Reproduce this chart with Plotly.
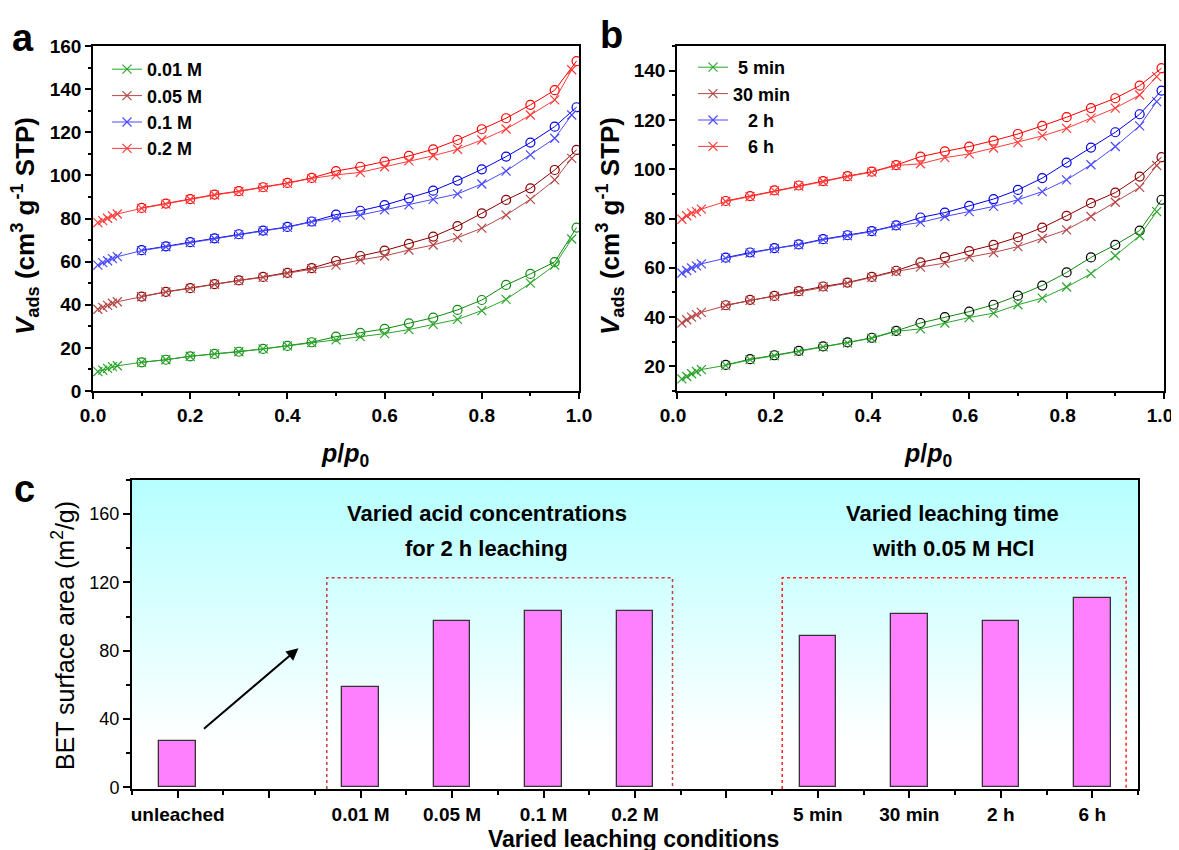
import plotly.graph_objects as go

# page has an 8px body margin: the figure is drawn 8px in from the top-left
OFF = 8
W, H = 1179, 850
FW, FH = W, H
FONT = "Arial, Liberation Sans, sans-serif"

# ---------------- data ----------------
p_ads = [0.01, 0.02, 0.03, 0.04, 0.05, 0.10, 0.15, 0.20, 0.25, 0.30, 0.35, 0.40,
         0.45, 0.50, 0.55, 0.60, 0.65, 0.70, 0.75, 0.80, 0.85, 0.90, 0.95, 0.985]
p_des = [0.995, 0.95, 0.90, 0.85, 0.80, 0.75, 0.70, 0.65, 0.60, 0.55, 0.50,
         0.45, 0.40, 0.35, 0.30, 0.25, 0.20, 0.15, 0.10]

# panel a: acid concentration
names_a = ["0.01 M", "0.05 M", "0.1 M", "0.2 M"]
ads_001M = [9.0, 9.7, 10.5, 11.3, 11.7, 13.3, 14.5, 16.1, 17.2, 18.2, 19.5, 20.9,
            22.4, 23.7, 25.2, 26.6, 28.5, 30.9, 33.2, 37.3, 42.5, 50.0, 58.4, 70.5]
des_001M = [75.8, 59.8, 54.3, 49.2, 42.2, 37.6, 34.0, 31.4, 28.8, 27.0, 25.2,
            22.6, 20.9, 19.5, 18.2, 17.2, 16.1, 14.5, 13.3]
ads_005M = [37.9, 38.8, 39.7, 40.7, 41.4, 43.7, 45.9, 47.6, 49.5, 51.2, 52.7, 54.6,
            56.7, 58.4, 60.8, 62.6, 65.4, 67.7, 71.1, 75.5, 81.6, 88.9, 97.9, 107.9]
des_005M = [111.8, 102.5, 94.0, 88.6, 82.4, 76.5, 71.6, 68.2, 65.1, 62.6, 60.3,
            57.0, 54.8, 52.9, 51.3, 49.6, 47.7, 46.0, 43.8]
ads_01M = [58.4, 59.5, 60.4, 61.4, 62.3, 65.1, 66.9, 68.8, 70.6, 72.5, 74.2, 75.9,
           78.4, 80.4, 81.6, 84.0, 86.3, 88.9, 91.4, 96.0, 102.0, 109.5, 117.2, 128.0]
des_01M = [131.6, 122.6, 115.2, 108.7, 102.8, 97.6, 92.9, 89.4, 86.2, 83.6, 81.8,
           78.6, 76.1, 74.4, 72.7, 70.8, 69.0, 67.1, 65.3]
ads_02M = [78.1, 79.0, 80.1, 81.2, 82.1, 84.7, 86.7, 88.8, 90.9, 92.5, 94.3, 96.3,
           98.6, 100.2, 101.4, 104.0, 106.7, 109.1, 112.1, 116.4, 121.5, 128.0, 135.0, 149.0]
des_02M = [153.0, 139.5, 132.7, 126.5, 121.4, 116.4, 112.1, 109.0, 106.4, 104.0, 102.0,
           98.8, 96.5, 94.5, 92.7, 91.1, 89.0, 86.9, 84.9]

# panel b: leaching time
names_b = ["\u00a05 min", "30 min", "\u00a0\u00a0\u00a02 h", "\u00a0\u00a0\u00a06 h"]
ads_5min = [14.9, 15.9, 17.0, 17.9, 18.7, 20.4, 22.7, 24.3, 26.1, 27.9, 29.5, 31.4,
            34.2, 35.2, 37.6, 39.8, 41.6, 45.0, 47.7, 52.2, 57.6, 64.9, 73.0, 82.8]
des_5min = [87.6, 75.1, 69.3, 64.2, 58.1, 52.8, 48.7, 45.0, 42.2, 40.0, 37.6,
            34.4, 31.6, 29.7, 28.1, 26.3, 24.5, 22.9, 20.6]
ads_30min = [37.6, 38.9, 40.0, 41.0, 41.9, 44.6, 46.8, 48.4, 50.3, 52.2, 53.8, 56.1,
             58.5, 60.3, 61.9, 64.3, 66.2, 68.6, 71.9, 75.4, 80.8, 86.6, 92.6, 101.5]
des_30min = [104.9, 97.0, 90.5, 86.2, 81.1, 76.3, 72.4, 69.3, 66.8, 64.3, 62.2,
             58.8, 56.3, 54.0, 52.4, 50.5, 48.6, 47.0, 44.8]
ads_2h = [57.9, 58.9, 59.9, 60.8, 61.6, 63.9, 66.0, 67.8, 69.3, 71.4, 73.0, 74.7,
          77.0, 78.4, 80.8, 82.8, 84.9, 87.6, 90.9, 95.7, 101.8, 109.2, 117.6, 127.4]
des_2h = [131.9, 122.3, 115.0, 108.8, 102.7, 96.4, 91.6, 87.9, 85.1, 82.4, 80.4,
          77.2, 74.9, 73.2, 71.6, 69.5, 68.0, 66.2, 64.1]
ads_6h = [79.7, 81.1, 82.2, 82.8, 83.8, 86.9, 88.9, 91.2, 93.2, 95.0, 97.0, 98.8,
          101.5, 102.2, 104.7, 106.2, 108.6, 110.8, 113.5, 116.6, 120.7, 124.8, 130.1, 137.6]
des_6h = [141.0, 133.9, 128.8, 124.8, 121.1, 117.6, 114.3, 111.6, 109.2, 107.2, 105.1,
          101.7, 99.0, 97.2, 95.2, 93.4, 91.4, 89.1, 87.1]

# panel c: BET surface area
bet_labels = ["unleached", "", "0.01 M", "0.05 M", "0.1 M", "0.2 M", "",
              "5 min", "30 min", "2 h", "6 h"]
bet_values = [27.0, None, 58.5, 97.6, 103.0, 103.0, None, 88.7, 101.7, 97.6, 110.6]

# ---------------- styles ----------------
ads_colors = ["#2aa52a", "#b54848", "#4a4aff", "#ff3c3c"]
des_colors = ["#108a10", "#8b0000", "#0000e6", "#ff0000"]
des_marker_b = ["#000000", "#8b0000", "#0000e6", "#ff0000"]


def px_x(x):
    return (x - OFF) / FW


def px_y(y):
    return 1 - (y - OFF) / FH


fig = go.Figure()

sets_a = [(ads_001M, des_001M), (ads_005M, des_005M), (ads_01M, des_01M), (ads_02M, des_02M)]
sets_b = [(ads_5min, des_5min), (ads_30min, des_30min), (ads_2h, des_2h), (ads_6h, des_6h)]

for sets, names, xa, ya, leg, dmk in [
        (sets_a, names_a, "x", "y", "legend", des_colors),
        (sets_b, names_b, "x2", "y2", "legend2", des_marker_b)]:
    for i, (ads, des) in enumerate(sets):
        fig.add_trace(go.Scatter(
            x=p_des, y=des, mode="lines+markers", xaxis=xa, yaxis=ya,
            line=dict(color=des_colors[i], width=1),
            marker=dict(symbol="circle-open", size=9, color=dmk[i], line=dict(width=1.2)),
            showlegend=False, hoverinfo="skip"))
        fig.add_trace(go.Scatter(
            x=p_ads, y=ads, mode="lines+markers", xaxis=xa, yaxis=ya,
            name=names[i], legend=leg,
            line=dict(color=ads_colors[i], width=1),
            marker=dict(symbol="x-thin-open", size=9, color=ads_colors[i], line=dict(width=1.2)),
            hoverinfo="skip"))

# panel c background gradient (base subplot x3/y3)
fig.add_trace(go.Scatter(
    x=[-0.5, 10.5, 10.5, -0.5, -0.5], y=[-1, -1, 180, 180, -1],
    xaxis="x3", yaxis="y3", mode="lines", fill="toself",
    line=dict(width=0, color="rgba(0,0,0,0)"),
    fillgradient=dict(type="vertical",
                      colorscale=[[0, "#ffffff"], [0.15, "#ffffff"], [1, "#b6ffff"]]),
    showlegend=False, hoverinfo="skip"))

# bars on an overlaying y axis so they are drawn above the gradient
fig.add_trace(go.Bar(
    x=list(range(len(bet_labels))), y=bet_values, width=0.4,
    xaxis="x3", yaxis="y4",
    marker=dict(color="#ff80ff", line=dict(color="#333333", width=1.3)),
    showlegend=False, hoverinfo="skip"))

tick_font = dict(family=FONT, size=19, color="black", weight="bold")
base_axis = dict(showline=True, linecolor="black", linewidth=1.5, mirror=True,
                 ticks="outside", ticklen=6, tickwidth=1.5, tickcolor="black",
                 showgrid=False, zeroline=False, tickfont=tick_font, automargin=False)

dom_y_ab = [px_y(391), px_y(46)]
dom_y_c = [px_y(789), px_y(480)]
leg_font = dict(family=FONT, size=18, color="black", weight="bold")
fig.update_layout(
    width=FW, height=FH, margin=dict(l=0, r=0, t=0, b=0),
    paper_bgcolor="white", plot_bgcolor="rgba(0,0,0,0)",
    template="none", bargap=0,
    xaxis=dict(base_axis, domain=[px_x(93), px_x(579)], range=[0, 1],
               tick0=0, dtick=0.2, tickformat=".1f",
               minor=dict(dtick=0.1, ticks="outside", ticklen=3, tickcolor="black"),
               anchor="y"),
    yaxis=dict(base_axis, domain=dom_y_ab, range=[0, 160], tick0=0, dtick=20,
               minor=dict(dtick=10, ticks="outside", ticklen=3, tickcolor="black"),
               anchor="x"),
    xaxis2=dict(base_axis, domain=[px_x(677), px_x(1164)], range=[0, 1],
                tick0=0, dtick=0.2, tickformat=".1f", ticklabelshift=-4,
                minor=dict(dtick=0.1, ticks="outside", ticklen=3, tickcolor="black"),
                anchor="y2"),
    yaxis2=dict(base_axis, domain=dom_y_ab, range=[10, 150], tick0=0, dtick=20,
                minor=dict(dtick=10, ticks="outside", ticklen=3, tickcolor="black"),
                anchor="x2"),
    xaxis3=dict(base_axis, domain=[px_x(132), px_x(1138)], range=[-0.5, 10.5],
                linewidth=2, tickmode="array", tickvals=list(range(len(bet_labels))),
                ticktext=bet_labels, ticklen=7,
                tickfont=dict(family=FONT, size=19, color="black", weight="bold"),
                minor=dict(tick0=0.5, dtick=1, ticks="outside", ticklen=4, tickcolor="black"),
                anchor="y3"),
    yaxis3=dict(base_axis, domain=dom_y_c, range=[-1, 180],
                linewidth=2, tick0=0, dtick=40, ticklen=7,
                tickfont=dict(family=FONT, size=18, color="black"),
                minor=dict(dtick=20, ticks="outside", ticklen=4, tickcolor="black"),
                anchor="x3"),
    yaxis4=dict(domain=dom_y_c, range=[-1, 180], overlaying="y3", anchor="x3",
                visible=False, showgrid=False, zeroline=False),
    legend=dict(x=px_x(107), y=px_y(51), xanchor="left", yanchor="top",
                bgcolor="rgba(0,0,0,0)", font=leg_font,
                itemsizing="trace", tracegroupgap=0),
    legend2=dict(x=px_x(693), y=px_y(49), xanchor="left", yanchor="top",
                 bgcolor="rgba(0,0,0,0)", font=leg_font,
                 itemsizing="trace", tracegroupgap=0),
)

ann = []


def paper_text(text, x, y, size, angle=0, bold=True, xanchor="center", yanchor="middle"):
    ann.append(dict(text=text, x=px_x(x), y=px_y(y), xref="paper", yref="paper",
                    showarrow=False, textangle=angle, xanchor=xanchor, yanchor=yanchor,
                    font=dict(family=FONT, size=size, color="black",
                              weight="bold" if bold else "normal")))


paper_text("a", 23, 38, 38)
paper_text("b", 611, 35, 38)
paper_text("c", 24, 489, 38)
ytitle = "<i>V</i><sub>ads</sub> (cm<sup>3</sup> g<sup>-1</sup> STP)"
paper_text(ytitle, 25, 226, 26, angle=-90)
paper_text(ytitle, 610, 226, 26, angle=-90)
xtitle = "<i>p</i>/<i>p</i><sub>0</sub>"
paper_text(xtitle, 345, 455, 25)
paper_text(xtitle, 928, 455, 25)
paper_text("BET surface area (m<sup>2</sup>/g)", 63, 636, 25, angle=-90, bold=False)
paper_text("Varied leaching conditions", 633, 839, 23)

for t, xv, yv in [("Varied acid concentrations", 3.38, 160.4),
                  ("for 2 h leaching", 3.38, 140.0),
                  ("Varied leaching time", 8.47, 160.4),
                  ("with 0.05 M HCl", 8.48, 140.0)]:
    ann.append(dict(text=t, x=xv, y=yv, xref="x3", yref="y3", showarrow=False,
                    font=dict(family=FONT, size=22, color="black", weight="bold")))

# arrow from unleached toward the leached group
ann.append(dict(text="", x=1.32, y=81.4, ax=0.27, ay=33.6, xref="x3", yref="y3",
                axref="x3", ayref="y3", showarrow=True, arrowhead=2, arrowsize=1.2,
                arrowwidth=2, arrowcolor="black"))
fig.update_layout(annotations=ann)

# dotted group boxes
box_top = 122.7
fig.add_shape(type="path", xref="x3", yref="y3",
              path=f"M 1.63,-1 L 1.63,{box_top} L 5.41,{box_top} L 5.41,-1",
              line=dict(color="#c04040", width=1.5, dash="dot"))
fig.add_shape(type="path", xref="x3", yref="y3",
              path=f"M 6.61,-1 L 6.61,{box_top} L 10.37,{box_top} L 10.37,-1",
              line=dict(color="#ff2020", width=1.5, dash="dot"))

fig.write_html("out.html")
